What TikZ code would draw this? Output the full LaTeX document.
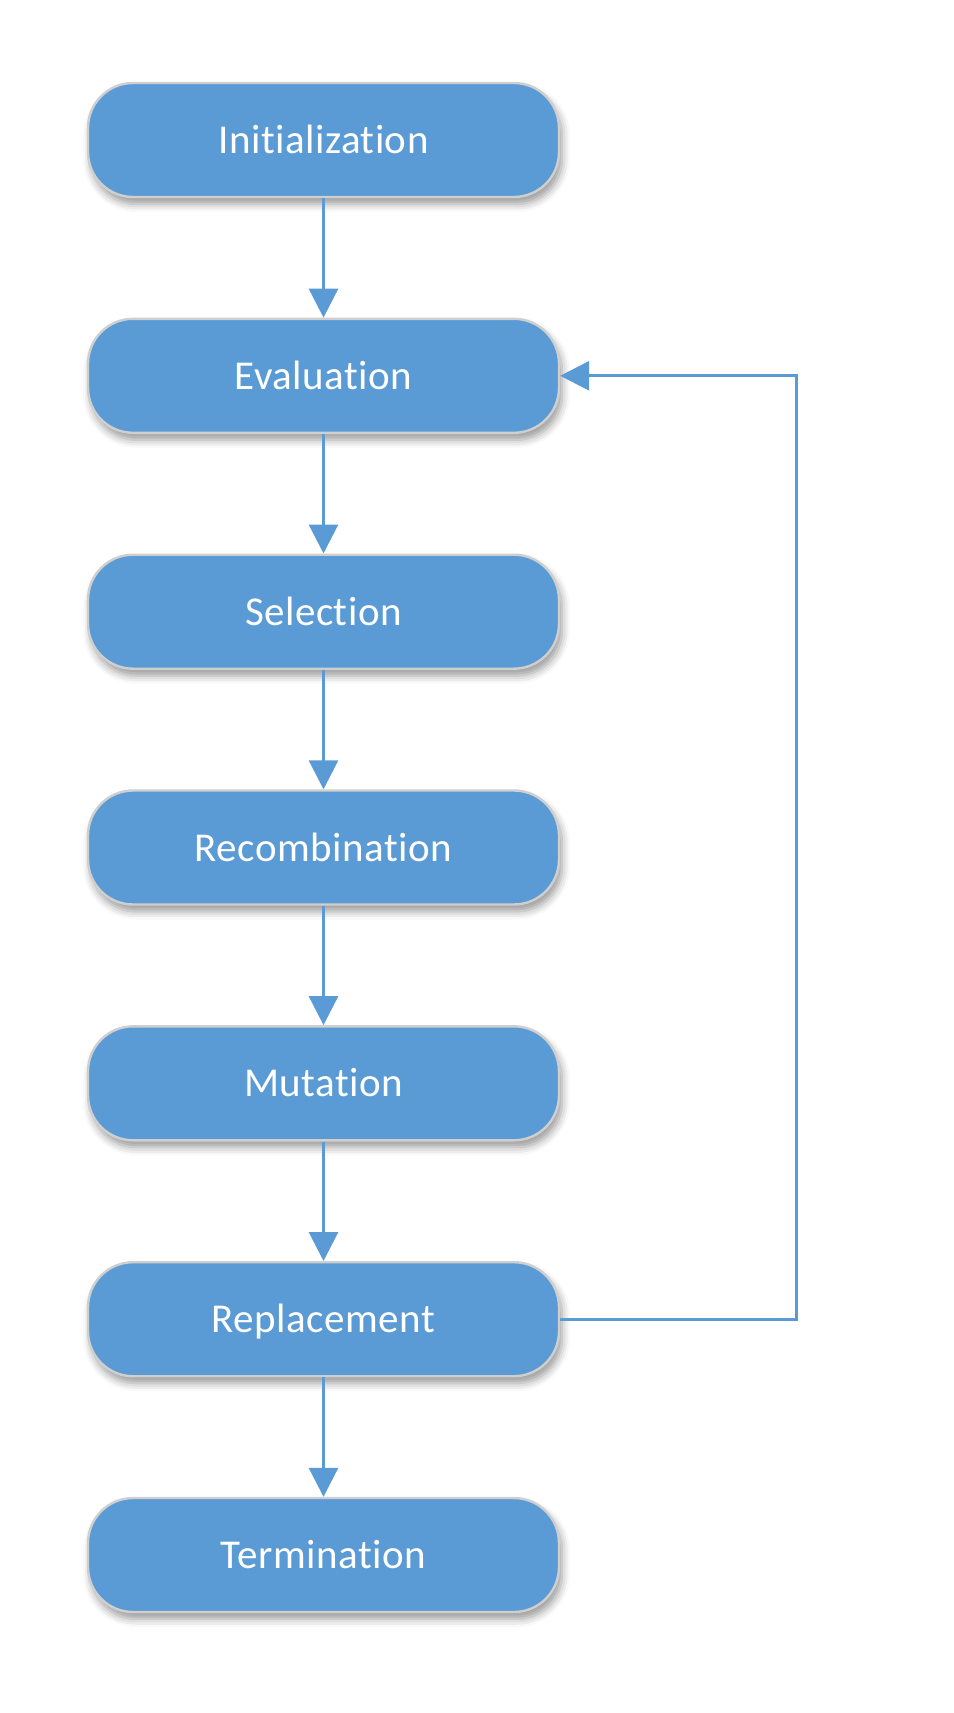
\documentclass[tikz,border=0pt]{standalone}
\usepackage{fontspec}
\setmainfont{Carlito}[Ligatures={NoCommon},LetterSpace=1.2]
\usetikzlibrary{arrows.meta,shadows.blur}
\definecolor{boxblue}{HTML}{5B9BD5}
\definecolor{boxedge}{HTML}{CFCFCF}
\begin{document}
\begin{tikzpicture}[x=0.5pt,y=-0.5pt,
  stepbox/.style={draw=boxedge,line width=1.2pt,fill=boxblue,rounded corners=22.5pt,
    minimum width=235.5pt,minimum height=57pt,inner sep=0pt,
    text=white,font=\fontsize{20.5}{24}\selectfont,text height=13.5pt,text depth=0pt,
    blur shadow={shadow xshift=1.5pt,shadow yshift=-3.5pt,shadow blur radius=4pt,shadow opacity=40}},
  flow/.style={draw=boxblue,line width=1.5pt,-{Triangle[length=14.5pt,width=14.5pt]}}]
\useasboundingbox (0,0) rectangle (953,1713);
\node[stepbox] (init) at (323.5,140) {Initialization};
\node[stepbox] (eval) at (323.5,375.8) {Evaluation};
\node[stepbox] (sel)  at (323.5,611.7) {Selection};
\node[stepbox] (rec)  at (323.5,847.5) {Recombination};
\node[stepbox] (mut)  at (323.5,1083.3) {Mutation};
\node[stepbox] (rep)  at (323.5,1319.2) {Replacement};
\node[stepbox] (term) at (323.5,1555) {Termination};
\coordinate (cb) at (796,1319.2);
\coordinate (ct) at (796,375.8);
\draw[flow] (init) -- (eval);
\draw[flow] (eval) -- (sel);
\draw[flow] (sel) -- (rec);
\draw[flow] (rec) -- (mut);
\draw[flow] (mut) -- (rep);
\draw[flow] (rep) -- (term);
\draw[flow] (rep.east) -- (cb) -- (ct) -- (eval.east);
\end{tikzpicture}
\end{document}
